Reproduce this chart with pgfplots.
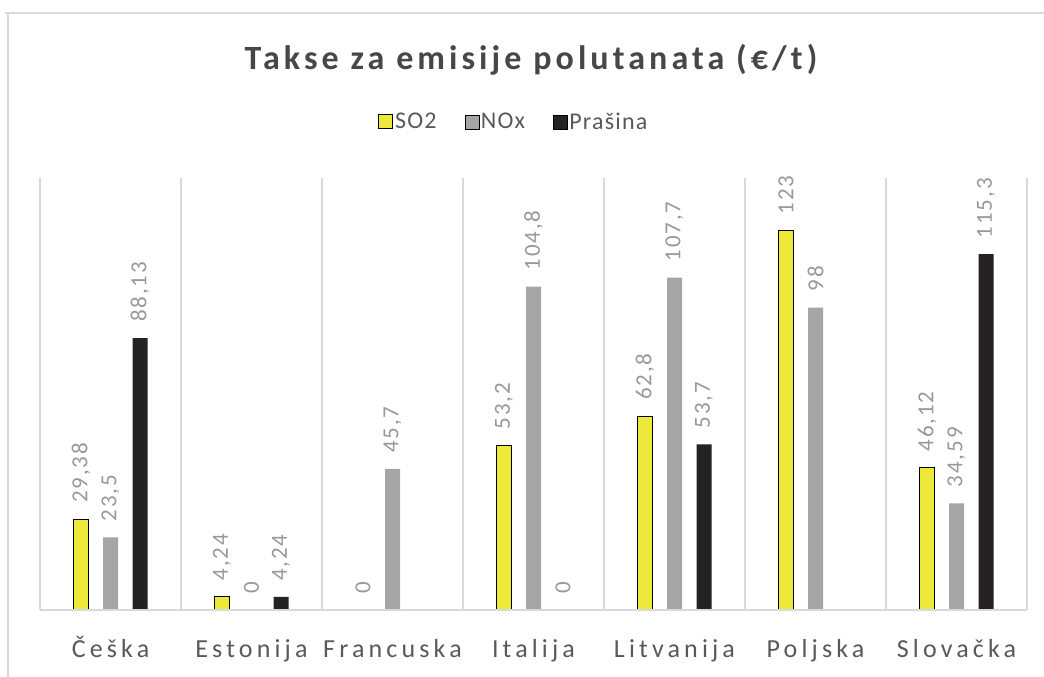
\documentclass[border=0pt]{standalone}
\usepackage{fontspec}
\setmainfont{Carlito}
\newfontfamily\titlefont[LetterSpace=12]{Carlito}
\newfontfamily\catfont[LetterSpace=16]{Carlito}
\newfontfamily\valfont[LetterSpace=8]{Carlito}
\newfontfamily\legfont[LetterSpace=5]{Carlito}
\usepackage{pgfplots}
\pgfplotsset{compat=1.18}
\definecolor{so2}{HTML}{EDE83A}
\definecolor{nox}{HTML}{A5A5A5}
\definecolor{dust}{HTML}{242223}
\definecolor{lines}{HTML}{D9D9D9}
\definecolor{txt}{HTML}{595959}
\definecolor{vals}{HTML}{999999}
\begin{document}
\begin{tikzpicture}
\useasboundingbox (0,0) rectangle (1044pt,677pt);
\draw[lines, line width=1.2pt] (5pt,664pt) -- (1044pt,664pt);
\draw[lines, line width=1.2pt] (8pt,664pt) -- (8pt,0pt);
\node[text=txt!80!black, font=\titlefont\fontsize{34}{40}\selectfont\bfseries] at (531pt,617pt) {Takse za emisije polutanata (€/t)};
\begin{axis}[
    at={(40pt,67pt)}, anchor=south west,
    scale only axis,
    width=987pt, height=432pt,
    ybar=14.5pt, bar width=15pt,
    xmin=-0.5, xmax=6.5,
    ymin=0, ymax=140,
    axis x line=bottom, axis y line=none,
    x axis line style={lines, line width=1.2pt, -},
    xtick={0,...,6},
    xticklabels={Češka,Estonija,Francuska,Italija,Litvanija,Poljska,Slovačka},
    major tick length=0pt,
    xticklabel style={font=\catfont\fontsize{26}{30}\selectfont, text=txt, anchor=base, yshift=-48pt},
    minor xtick={-0.5,0.5,...,6.5},
    minor tick length=0pt,
    xminorgrids=true,
    minor grid style={lines, line width=1.2pt},
    ytick=\empty,
    axis on top,
    clip=false,
    point meta=explicit symbolic,
    nodes near coords,
    every node near coord/.append style={rotate=90, anchor=west, inner sep=0pt, xshift=16pt,
        font=\valfont\fontsize{23}{26}\selectfont, text=vals},
    legend columns=3,
    legend style={at={(0.48,1.13)}, anchor=center, draw=none, fill=none,
        font=\legfont\fontsize{24}{27}\selectfont, text=txt,
        /tikz/every even column/.append style={column sep=26pt}},
    legend image code/.code={\draw[#1,/tikz/.cd] (0pt,-7pt) rectangle (14pt,7pt);},
]
\addplot[fill=so2, draw=black, line width=0.9pt] coordinates {
    (0,29.38) [29,38] (1,4.24) [4,24] (2,0) [0] (3,53.2) [53,2]
    (4,62.8) [62,8] (5,123) [123] (6,46.12) [46,12]
};
\addplot[fill=nox, draw=none] coordinates {
    (0,23.5) [23,5] (1,0) [0] (2,45.7) [45,7] (3,104.8) [104,8]
    (4,107.7) [107,7] (5,98) [98] (6,34.59) [34,59]
};
\addplot[fill=dust, draw=none] coordinates {
    (0,88.13) [88,13] (1,4.24) [4,24] (3,0) [0]
    (4,53.7) [53,7] (6,115.3) [115,3]
};
\legend{SO2,NOx,Prašina}
\end{axis}
\end{tikzpicture}
\end{document}
